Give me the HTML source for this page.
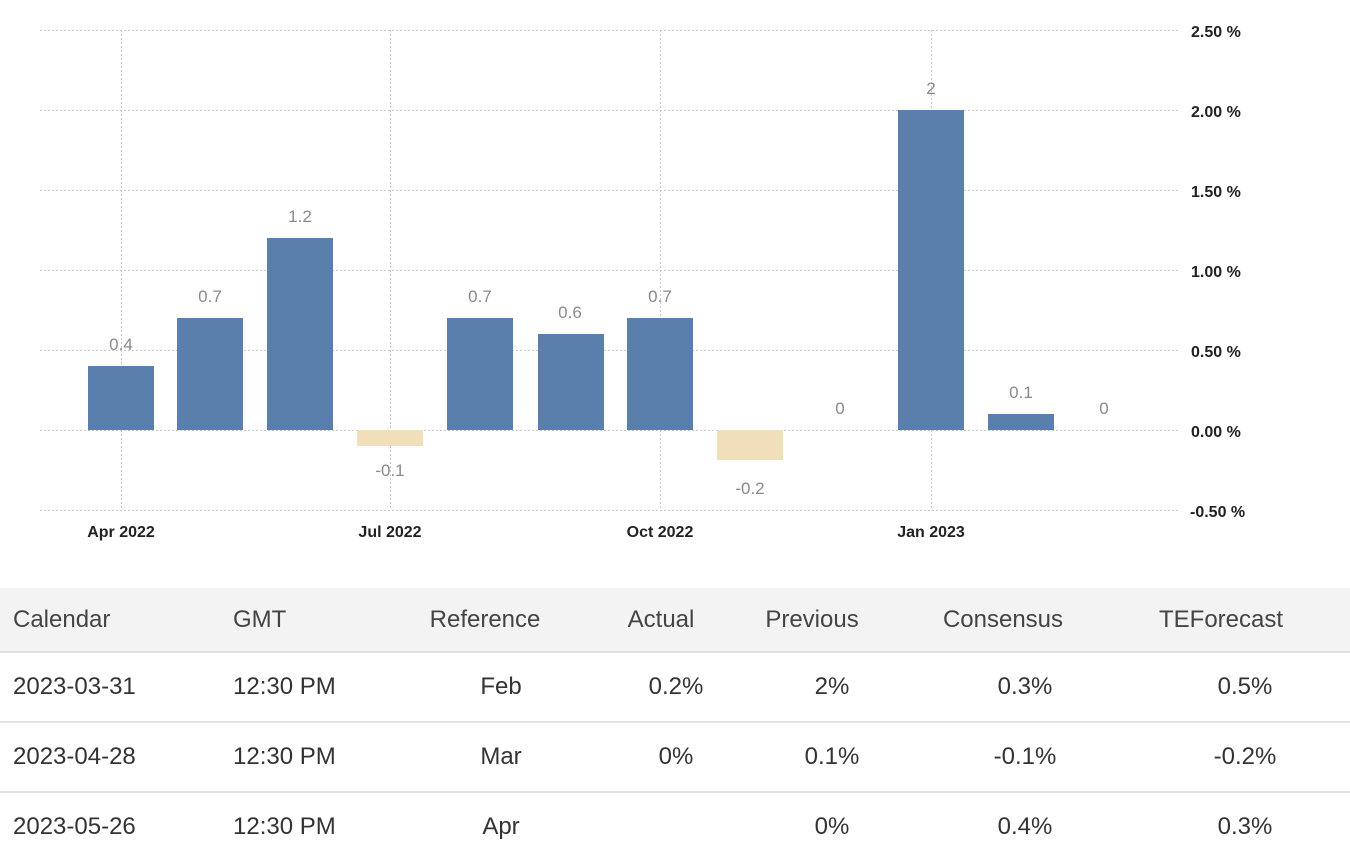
<!DOCTYPE html>
<html><head><meta charset="utf-8"><style>
body{margin:0;width:1350px;height:860px;background:#fff;overflow:hidden;font-family:"Liberation Sans",Arial,sans-serif}
svg{position:absolute;left:0;top:0}
.tbl{position:absolute;left:0;top:588px;width:1350px}
.row{position:relative;height:68px;border-bottom:2px solid #e2e2e2;color:#333;font-size:24px}
.row span{position:absolute;top:50%;transform:translate(-50%,-50%);white-space:nowrap}
.row span.l{transform:translate(0,-50%)}
.hdr{background:#f3f3f3;height:64px;color:#444;border-bottom:2px solid #e2e2e2}
</style></head><body>
<svg width="1350" height="580" font-family="Liberation Sans, Arial, sans-serif">
<g stroke="#c8c8c8" stroke-dasharray="2,2" stroke-width="1">
<line x1="40" x2="1180" y1="30.5" y2="30.5"/><line x1="40" x2="1180" y1="110.5" y2="110.5"/>
<line x1="40" x2="1180" y1="190.5" y2="190.5"/><line x1="40" x2="1180" y1="270.5" y2="270.5"/>
<line x1="40" x2="1180" y1="350.5" y2="350.5"/><line x1="40" x2="1180" y1="430.5" y2="430.5"/>
<line x1="40" x2="1180" y1="510.5" y2="510.5"/>
<line x1="121.5" x2="121.5" y1="30" y2="510"/><line x1="390.5" x2="390.5" y1="30" y2="510"/>
<line x1="660.5" x2="660.5" y1="30" y2="510"/><line x1="931.5" x2="931.5" y1="30" y2="510"/>
</g>
<g fill="#5b7fad">
<rect x="88" y="366" width="66" height="64"/>
<rect x="177" y="318" width="66" height="112"/>
<rect x="267" y="238" width="66" height="192"/>
<rect x="447" y="318" width="66" height="112"/>
<rect x="538" y="334" width="66" height="96"/>
<rect x="627" y="318" width="66" height="112"/>
<rect x="898" y="110" width="66" height="320"/>
<rect x="988" y="414" width="66" height="16"/>
</g>
<g fill="#f1dfbb">
<rect x="357" y="430" width="66" height="16"/>
<rect x="717" y="430" width="66" height="30"/>
</g>
<g fill="#8a8a8a" font-size="17" text-anchor="middle">
<text x="121" y="350">0.4</text><text x="210" y="302">0.7</text><text x="300" y="222">1.2</text>
<text x="390" y="476">-0.1</text><text x="480" y="302">0.7</text><text x="570" y="318">0.6</text>
<text x="660" y="302">0.7</text><text x="750" y="494">-0.2</text><text x="840" y="414">0</text>
<text x="931" y="94">2</text><text x="1021" y="398">0.1</text><text x="1104" y="414">0</text>
</g>
<g fill="#222" font-size="16" font-weight="bold">
<text x="1191" y="37">2.50 %</text><text x="1191" y="117">2.00 %</text><text x="1191" y="197">1.50 %</text>
<text x="1191" y="277">1.00 %</text><text x="1191" y="357">0.50 %</text><text x="1191" y="437">0.00 %</text>
<text x="1190" y="517">-0.50 %</text>
</g>
<g fill="#222" font-size="16" font-weight="bold" text-anchor="middle">
<text x="121" y="537">Apr 2022</text><text x="390" y="537">Jul 2022</text>
<text x="660" y="537">Oct 2022</text><text x="931" y="537">Jan 2023</text>
</g>
</svg>
<div class="tbl">
<div class="row hdr" style="height:63px"><span class="l" style="left:13px">Calendar</span><span class="l" style="left:233px">GMT</span><span style="left:485px">Reference</span><span style="left:661px">Actual</span><span style="left:812px">Previous</span><span style="left:1003px">Consensus</span><span style="left:1221px">TEForecast</span></div>
<div class="row"><span class="l" style="left:13px">2023-03-31</span><span class="l" style="left:233px">12:30 PM</span><span style="left:501px">Feb</span><span style="left:676px">0.2%</span><span style="left:832px">2%</span><span style="left:1025px">0.3%</span><span style="left:1245px">0.5%</span></div>
<div class="row"><span class="l" style="left:13px">2023-04-28</span><span class="l" style="left:233px">12:30 PM</span><span style="left:501px">Mar</span><span style="left:676px">0%</span><span style="left:832px">0.1%</span><span style="left:1025px">-0.1%</span><span style="left:1245px">-0.2%</span></div>
<div class="row" style="border-bottom:none"><span class="l" style="left:13px">2023-05-26</span><span class="l" style="left:233px">12:30 PM</span><span style="left:501px">Apr</span><span style="left:832px">0%</span><span style="left:1025px">0.4%</span><span style="left:1245px">0.3%</span></div>
</div>
</body></html>
